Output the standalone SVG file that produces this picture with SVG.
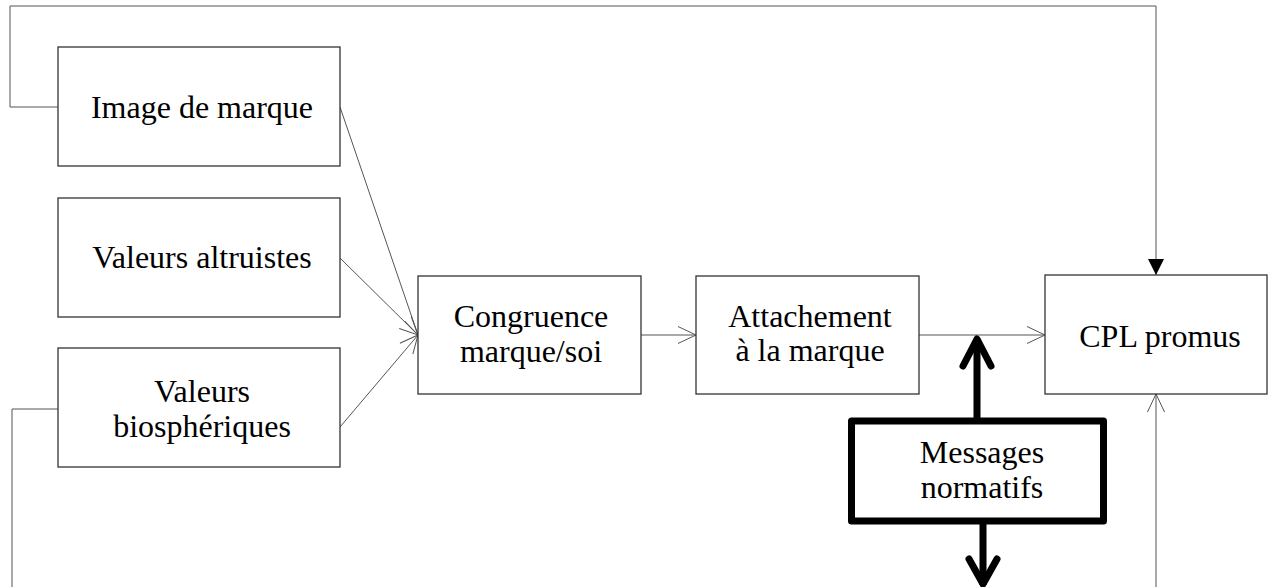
<svg xmlns="http://www.w3.org/2000/svg" width="1269" height="587" viewBox="0 0 1269 587">
<style>
.box{fill:#fff;stroke:#333;stroke-width:1.3}
.thick{fill:#fff;stroke:#000;stroke-width:7;stroke-linejoin:round}
.t{font-family:"Liberation Serif","Times New Roman",serif;font-size:32px;fill:#000;text-anchor:middle}
.ln{fill:none;stroke:#555;stroke-width:1}
.bl{fill:none;stroke:#000;stroke-width:7;stroke-linecap:round;stroke-linejoin:round}
</style>
<defs>
<marker id="open" markerWidth="20" markerHeight="20" refX="18" refY="10" orient="auto" markerUnits="userSpaceOnUse">
<path d="M0,1.5 L18,10 L0,18.5" fill="none" stroke="#555" stroke-width="1"/>
</marker>
<marker id="fill" markerWidth="20" markerHeight="20" refX="16" refY="8" orient="auto" markerUnits="userSpaceOnUse">
<path d="M0,0 L16,8 L0,16 Z" fill="#000"/>
</marker>
</defs>
<g id="connectors">
<polyline class="ln" points="58,107 10,107 10,6 1156,6 1156,275" marker-end="url(#fill)"/>
<polyline class="ln" points="58,409 12,409 12,587"/>
<line class="ln" x1="340" y1="107" x2="418" y2="335" marker-end="url(#open)"/>
<line class="ln" x1="340" y1="258" x2="418" y2="335" marker-end="url(#open)"/>
<line class="ln" x1="340" y1="427" x2="418" y2="335" marker-end="url(#open)"/>
<line class="ln" x1="641" y1="335" x2="696" y2="335" marker-end="url(#open)"/>
<line class="ln" x1="919" y1="335" x2="1045" y2="335" marker-end="url(#open)"/>
<line class="ln" x1="1156" y1="587" x2="1156" y2="394" marker-end="url(#open)"/>
<line class="bl" x1="977" y1="418" x2="977" y2="340"/>
<polyline class="bl" points="963,366 977,339 991,366"/>
<line class="bl" x1="983" y1="524" x2="983" y2="583"/>
<polyline class="bl" points="969,559 983,584 997,559"/>
</g>
<g id="image">
<rect class="box" x="58" y="47" width="282" height="119"/>
<text class="t" x="202" y="118">Image de marque</text>
</g>
<g id="altruistes">
<rect class="box" x="58" y="198" width="282" height="119"/>
<text class="t" x="202" y="268">Valeurs altruistes</text>
</g>
<g id="biospheriques">
<rect class="box" x="58" y="348" width="282" height="119"/>
<text class="t" x="202" y="402">Valeurs</text>
<text class="t" x="202" y="437">biosphériques</text>
</g>
<g id="congruence">
<rect class="box" x="418" y="276" width="223" height="118"/>
<text class="t" x="531" y="327">Congruence</text>
<text class="t" x="531" y="362">marque/soi</text>
</g>
<g id="attachement">
<rect class="box" x="696" y="276" width="223" height="118"/>
<text class="t" x="810" y="327">Attachement</text>
<text class="t" x="810" y="361">à la marque</text>
</g>
<g id="cpl">
<rect class="box" x="1045" y="275" width="222" height="119"/>
<text class="t" x="1160" y="347">CPL promus</text>
</g>
<g id="messages">
<rect class="thick" x="851.5" y="421" width="252" height="100"/>
<text class="t" x="982" y="463">Messages</text>
<text class="t" x="982" y="498">normatifs</text>
</g>
</svg>
